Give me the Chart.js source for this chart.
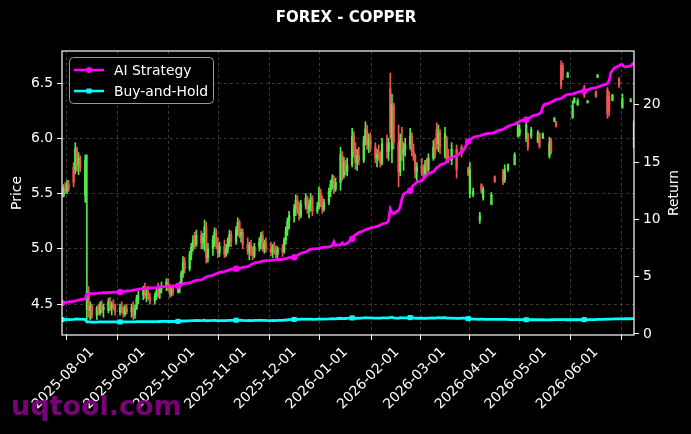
<!DOCTYPE html>
<html>
<head>
<meta charset="utf-8">
<script src="https://cdn.jsdelivr.net/npm/chart.js@4.4.1/dist/chart.umd.min.js"></script>
<style>
  html, body { margin: 0; padding: 0; background: #000; }
  canvas { display: block; }
</style>
</head>
<body>
<canvas id="chart" width="691" height="434"></canvas>
<script>
const START_DATE = '2025-07-14';
const END_DAY = 345;

const monthTicks = ['2025-08-01', '2025-09-01', '2025-10-01', '2025-11-01', '2025-12-01', '2026-01-01',
  '2026-02-01', '2026-03-01', '2026-04-01', '2026-05-01', '2026-06-01'];
const priceTicks = [4.5, 5.0, 5.5, 6.0, 6.5];
const returnTicks = [0, 5, 10, 15, 20];

// daily OHLC, one row per week (Mon..Fri), null = no candle
const opens = [
  5.50,5.48,5.55,5.52,5.58, 5.74,5.72,5.90,5.75,5.80, 5.48,4.45,4.62,4.44,4.48, 4.40,4.46,4.42,4.49,4.45,
  4.44,4.52,4.47,4.50,4.48, 4.43,4.47,4.44,4.41,4.46, 4.43,4.47,4.40,4.46,4.55, 4.58,4.62,4.58,4.60,4.56,
  4.53,4.57,4.62,4.60,4.64, 4.66,4.70,4.64,4.60,4.63, 4.61,4.65,4.68,4.78,4.88, 4.82,4.95,5.02,5.08,5.04,
  5.12,5.05,5.10,5.20,4.92, 5.00,5.08,5.15,5.04,4.96, 5.02,4.95,5.00,5.08,5.13, 5.06,5.17,5.24,5.12,5.15,
  5.04,4.98,5.03,4.97,4.94, 5.02,5.06,5.12,5.00,5.05, 5.00,4.97,5.02,4.98,4.95, 5.00,4.98,5.08,5.17,5.25,
  5.30,5.36,5.44,5.36,5.30, 5.40,5.46,5.36,5.40,5.46, 5.34,5.38,5.50,5.42,5.36, 5.42,5.52,5.58,5.63,5.54,
  5.60,5.85,5.66,5.78,5.70, 5.76,6.02,5.88,5.78,5.84, 5.80,5.98,6.08,5.94,6.00, 5.92,5.82,5.86,5.84,5.78,
  5.95,5.88,6.45,5.90,6.30, 5.96,5.70,5.98,5.86,5.90, 5.94,6.02,5.88,5.84,5.70, 5.74,5.70,5.68,5.76,5.72,
  5.82,5.92,6.08,5.95,6.05, 5.84,6.00,5.84,null,5.80, 5.90,null,null,5.92,null, 5.73,5.50,null,5.49,null,
  5.26,5.58,5.46,null,null, 5.40,null,5.65,null,null, 5.70,5.62,null,5.72,null, 5.76,null,6.02,6.04,null,
  6.00,6.04,null,6.02,null, 5.97,6.04,null,6.00,null, 5.84,5.98,null,6.15,6.15, 6.66,6.65,null,null,6.55,
  6.19,6.32,null,6.30,null, 6.46,null,6.32,null,null, 6.42,6.55,null,null,null, 6.44,6.38,null,6.34,null,
  6.54,null,6.28,null,null, 6.33,null,5.92
];
const highs = [
  5.55,5.58,5.60,5.62,5.62, 5.78,5.96,5.92,5.87,5.84, 5.85,5.85,4.66,4.52,4.50, 4.48,4.50,4.52,4.53,4.50,
  4.55,4.56,4.52,4.54,4.50, 4.50,4.52,4.48,4.49,4.50, 4.50,4.52,4.49,4.58,4.62, 4.66,4.69,4.64,4.66,4.60,
  4.60,4.65,4.69,4.66,4.70, 4.73,4.73,4.68,4.66,4.67, 4.68,4.70,4.80,4.93,4.92, 4.98,5.05,5.12,5.15,5.17,
  5.16,5.14,5.26,5.24,5.05, 5.12,5.19,5.18,5.10,5.06, 5.08,5.04,5.10,5.17,5.16, 5.20,5.28,5.26,5.18,5.18,
  5.10,5.06,5.08,5.02,5.05, 5.10,5.15,5.16,5.08,5.10, 5.06,5.04,5.06,5.03,5.02, 5.04,5.10,5.20,5.28,5.34,
  5.40,5.49,5.48,5.42,5.44, 5.50,5.48,5.44,5.50,5.48, 5.42,5.56,5.54,5.48,5.45, 5.55,5.62,5.67,5.66,5.64,
  5.92,5.88,5.83,5.80,5.82, 6.09,6.06,5.96,5.90,5.92, 6.02,6.15,6.12,6.04,6.05, 5.96,5.90,5.94,5.88,6.00,
  6.03,6.00,6.59,6.40,6.32, 6.12,6.04,6.10,5.96,6.00, 6.09,6.05,5.95,5.86,5.78, 5.82,5.76,5.80,5.82,5.86,
  5.98,6.00,6.14,6.12,6.08, 6.10,6.02,5.90,null,5.96, 5.94,null,null,5.94,null, 5.74,5.78,null,5.55,null,
  5.33,5.59,5.56,null,null, 5.51,null,5.66,null,null, 5.72,5.76,null,5.77,null, 5.87,null,6.13,6.12,null,
  6.15,6.05,null,6.10,null, 6.07,6.05,null,6.05,null, 6.01,6.00,null,6.19,6.15, 6.70,6.68,null,null,6.60,
  6.34,6.37,null,6.36,null, 6.48,null,6.34,null,null, 6.43,6.58,null,null,null, 6.46,6.42,null,6.40,null,
  6.55,null,6.40,null,null, 6.36,null,6.16
];
const lows = [
  5.46,5.47,5.50,5.50,5.52, 5.56,5.68,5.70,5.67,5.70, 5.42,4.36,4.38,4.36,4.37, 4.36,4.40,4.40,4.42,4.38,
  4.42,4.44,4.40,4.45,4.40, 4.40,4.42,4.38,4.39,4.41, 4.38,4.36,4.37,4.45,4.50, 4.54,4.55,4.52,4.54,4.50,
  4.50,4.54,4.56,4.55,4.60, 4.62,4.62,4.56,4.57,4.58, 4.60,4.60,4.66,4.74,4.78, 4.80,4.90,4.98,5.00,5.02,
  5.00,5.00,4.98,4.87,4.88, 4.94,5.02,5.00,4.92,4.93, 4.92,4.93,4.96,5.02,5.02, 5.04,5.12,5.10,5.06,5.00,
  4.95,4.90,4.94,4.90,4.92, 4.98,5.00,4.98,4.96,4.97, 4.94,4.92,4.95,4.92,4.92, 4.93,4.96,5.04,5.12,5.18,
  5.24,5.30,5.32,5.26,5.28, 5.36,5.32,5.28,5.34,5.30, 5.32,5.36,5.38,5.32,5.34, 5.40,5.47,5.54,5.50,5.52,
  5.53,5.62,5.64,5.67,5.66, 5.74,5.83,5.72,5.71,5.76, 5.78,5.94,5.90,5.87,5.88, 5.78,5.74,5.80,5.74,5.76,
  5.82,5.80,6.00,5.78,5.90, 5.56,5.66,5.80,5.71,5.84, 5.90,5.84,5.80,5.64,5.62, 5.66,5.62,5.65,5.68,5.70,
  5.80,5.82,5.90,5.88,5.86, 5.82,5.78,5.78,null,5.76, 5.64,null,null,5.83,null, 5.66,5.46,null,5.47,null,
  5.23,5.50,5.44,null,null, 5.40,null,5.60,null,null, 5.58,5.60,null,5.70,null, 5.76,null,6.01,6.02,null,
  5.97,5.89,null,6.00,null, 5.96,5.91,null,6.00,null, 5.82,5.86,null,6.15,6.10, 6.45,6.53,null,null,6.55,
  6.18,6.32,null,6.30,null, 6.37,null,6.32,null,null, 6.37,6.55,null,null,null, 6.18,6.20,null,6.34,null,
  6.46,null,6.27,null,null, 6.33,null,5.92
];
const closes = [
  5.48,5.55,5.52,5.58,5.55, 5.60,5.90,5.76,5.82,5.74, 5.80,4.62,4.44,4.48,4.40, 4.46,4.42,4.49,4.45,4.47,
  4.52,4.47,4.50,4.48,4.43, 4.47,4.44,4.41,4.46,4.43, 4.47,4.40,4.46,4.55,4.58, 4.62,4.58,4.60,4.56,4.53,
  4.57,4.62,4.60,4.64,4.66, 4.70,4.64,4.60,4.63,4.61, 4.65,4.68,4.78,4.88,4.82, 4.95,5.02,5.08,5.04,5.12,
  5.05,5.10,5.20,4.92,5.00, 5.08,5.15,5.04,4.96,5.02, 4.95,5.00,5.08,5.13,5.06, 5.17,5.24,5.12,5.15,5.04,
  4.98,5.03,4.97,4.94,5.02, 5.06,5.12,5.00,5.05,5.00, 4.97,5.02,4.98,4.95,5.00, 4.98,5.08,5.17,5.25,5.30,
  5.36,5.44,5.36,5.30,5.40, 5.46,5.36,5.40,5.46,5.34, 5.38,5.50,5.42,5.36,5.42, 5.52,5.58,5.63,5.54,5.60,
  5.85,5.66,5.78,5.70,5.76, 6.02,5.88,5.78,5.84,5.80, 5.98,6.08,5.94,6.00,5.92, 5.82,5.86,5.84,5.78,5.95,
  5.88,5.96,6.06,6.30,5.96, 5.70,5.98,5.86,5.90,5.94, 6.02,5.88,5.84,5.70,5.74, 5.70,5.68,5.76,5.72,5.82,
  5.92,5.86,5.95,6.05,5.92, 6.04,5.84,5.80,null,5.90, 5.72,null,null,5.86,null, 5.68,5.72,null,5.52,null,
  5.30,5.52,5.54,null,null, 5.49,null,5.61,null,null, 5.60,5.72,null,5.76,null, 5.85,null,6.10,6.08,null,
  6.12,5.92,null,6.08,null, 6.05,5.93,null,6.04,null, 5.96,5.88,null,6.18,6.11, 6.48,6.56,null,null,6.59,
  6.30,6.36,null,6.34,null, 6.39,null,6.34,null,null, 6.38,6.57,null,null,null, 6.22,6.24,null,6.39,null,
  6.48,null,6.36,null,null, 6.35,null,6.14
];

// cumulative return, same trading days
const aiStrategy = [
  2.70,2.72,2.75,2.78,2.80, 2.84,2.88,2.92,2.96,3.00, 3.08,3.45,3.50,3.52,3.53, 3.55,3.56,3.58,3.57,3.60,
  3.60,3.62,3.63,3.64,3.65, 3.66,3.68,3.70,3.72,3.75, 3.78,3.82,3.85,3.88,3.92, 3.95,3.97,4.00,4.02,4.03,
  4.05,4.06,4.08,4.10,4.12, 4.13,4.15,4.17,4.18,4.19, 4.20,4.24,4.30,4.36,4.42, 4.46,4.52,4.58,4.64,4.68,
  4.72,4.80,4.90,4.98,5.04, 5.12,5.20,5.26,5.32,5.38, 5.44,5.50,5.55,5.60,5.65, 5.70,5.72,5.75,5.78,5.82,
  5.88,5.96,6.05,6.12,6.20, 6.28,6.32,6.36,6.38,6.40, 6.42,6.44,6.45,6.48,6.50, 6.52,6.55,6.58,6.62,6.66,
  6.70,6.78,6.86,6.95,7.05, 7.15,7.25,7.32,7.38,7.42, 7.45,7.48,7.52,7.55,7.58, 7.60,7.65,7.70,8.05,7.75,
  7.78,7.95,7.80,7.85,7.92, 8.30,8.55,8.65,8.75,8.85, 9.00,9.10,9.15,9.20,9.25, 9.35,9.40,9.45,9.50,9.60,
  9.70,9.90,10.90,10.60,10.50, 10.80,11.10,11.80,12.20,12.30, 12.50,12.80,13.00,13.10,13.25, 13.40,13.55,13.70,13.85,14.00,
  14.15,14.35,14.50,14.60,14.75, 14.90,15.05,15.20,15.30,15.40, 15.55,15.65,15.80,15.90,16.00, 16.80,16.95,17.05,17.15,17.20,
  17.30,17.35,17.40,17.45,17.48, 17.52,17.55,17.60,17.68,17.75, 17.85,17.95,18.05,18.12,18.20, 18.30,18.40,18.50,18.55,18.62,
  18.70,18.80,18.88,18.95,19.05, 19.15,19.25,19.30,19.85,20.05, 20.15,20.25,20.30,20.40,20.45, 20.55,20.65,20.75,20.85,20.90,
  20.95,21.00,21.05,21.10,21.15, 21.20,21.25,21.30,21.38,21.42, 21.50,21.55,21.60,21.65,21.70, 21.85,22.10,22.80,23.00,23.20,
  23.40,23.50,23.50,23.35,23.30, 23.40,23.55,23.65
];
const buyAndHold = [
  1.25,1.26,1.25,1.27,1.26, 1.28,1.30,1.31,1.30,1.29, 1.27,1.06,1.05,1.05,1.04, 1.04,1.05,1.05,1.06,1.05,
  1.06,1.05,1.06,1.06,1.05, 1.05,1.06,1.05,1.05,1.06, 1.05,1.05,1.06,1.07,1.08, 1.08,1.07,1.08,1.07,1.07,
  1.07,1.08,1.08,1.09,1.10, 1.10,1.09,1.09,1.10,1.09, 1.10,1.10,1.12,1.14,1.13, 1.15,1.16,1.17,1.16,1.18,
  1.17,1.18,1.20,1.15,1.16, 1.18,1.19,1.17,1.16,1.17, 1.16,1.17,1.18,1.19,1.18, 1.20,1.21,1.19,1.20,1.18,
  1.17,1.18,1.17,1.16,1.18, 1.19,1.20,1.18,1.19,1.18, 1.17,1.18,1.17,1.17,1.18, 1.18,1.20,1.22,1.24,1.26,
  1.27,1.29,1.28,1.27,1.29, 1.30,1.28,1.29,1.30,1.28, 1.29,1.31,1.30,1.29,1.30, 1.31,1.32,1.33,1.32,1.33,
  1.37,1.34,1.36,1.35,1.36, 1.40,1.38,1.36,1.37,1.37, 1.40,1.42,1.40,1.41,1.40, 1.38,1.39,1.39,1.38,1.41,
  1.40,1.41,1.42,1.47,1.41, 1.37,1.42,1.40,1.41,1.41, 1.43,1.41,1.40,1.37,1.38, 1.37,1.37,1.38,1.37,1.39,
  1.40,1.39,1.40,1.42,1.40, 1.42,1.39,1.38,1.38,1.39, 1.36,1.36,1.37,1.38,1.38, 1.34,1.33,1.31,1.30,1.30,
  1.27,1.29,1.29,1.28,1.28, 1.27,1.28,1.28,1.27,1.28, 1.27,1.28,1.27,1.28,1.26, 1.26,1.25,1.26,1.25,1.25,
  1.24,1.25,1.24,1.24,1.25, 1.24,1.23,1.24,1.24,1.23, 1.23,1.24,1.24,1.25,1.25, 1.26,1.25,1.25,1.24,1.25,
  1.24,1.24,1.25,1.24,1.24, 1.25,1.24,1.25,1.25,1.26, 1.26,1.27,1.27,1.28,1.28, 1.29,1.29,1.30,1.30,1.31,
  1.31,1.31,1.32,1.32,1.33, 1.33,1.34,1.34
];

const UP = '#52ea48';
const DOWN = '#ee564e';
const FONT = '"DejaVu Sans", sans-serif';

function dayOffset(dateStr) {
  return Math.round((Date.parse(dateStr) - Date.parse(START_DATE)) / 86400000);
}
// i-th trading day (Mon-Fri) counted from START_DATE
function tradingDay(i) {
  return Math.floor(i / 5) * 7 + (i % 5);
}

const wicks = [], bodies = [], candleColors = [];
for (let i = 0; i < highs.length; i++) {
  if (highs[i] == null) continue;
  const x = tradingDay(i);
  wicks.push({ x: x, y: [lows[i], highs[i]] });
  bodies.push({ x: x, y: [opens[i], closes[i]] });
  candleColors.push(closes[i] >= opens[i] ? UP : DOWN);
}
const aiPoints = aiStrategy.map((v, i) => ({ x: tradingDay(i), y: v }));
const bhPoints = buyAndHold.map((v, i) => ({ x: tradingDay(i), y: v }));

const decorations = {
  id: 'decorations',
  afterDraw(chart) {
    const { ctx, chartArea: a } = chart;
    ctx.save();
    // axes frame
    ctx.strokeStyle = '#fff';
    ctx.lineWidth = 1.2;
    ctx.strokeRect(a.left, a.top, a.right - a.left, a.bottom - a.top);

    // title
    ctx.fillStyle = '#fff';
    ctx.font = 'bold 15px ' + FONT;
    ctx.textAlign = 'center';
    ctx.textBaseline = 'middle';
    ctx.fillText('FOREX - COPPER', 346, 18);

    // axis titles
    ctx.font = '13.9px ' + FONT;
    const midY = (a.top + a.bottom) / 2;
    ctx.save();
    ctx.translate(17, midY);
    ctx.rotate(-Math.PI / 2);
    ctx.fillText('Price', 0, 0);
    ctx.restore();
    ctx.save();
    ctx.translate(674, midY);
    ctx.rotate(-Math.PI / 2);
    ctx.fillText('Return', 0, 0);
    ctx.restore();

    // legend
    ctx.beginPath();
    ctx.roundRect(69.5, 57.5, 144, 46, 4);
    ctx.fillStyle = 'rgba(0,0,0,0.8)';
    ctx.fill();
    ctx.strokeStyle = '#9a9a9a';
    ctx.lineWidth = 1;
    ctx.stroke();
    const items = [
      { label: 'AI Strategy', color: '#ff00ff', y: 70, square: false },
      { label: 'Buy-and-Hold', color: '#00ffff', y: 91, square: true }
    ];
    items.forEach(it => {
      ctx.strokeStyle = it.color;
      ctx.fillStyle = it.color;
      ctx.lineWidth = 2.5;
      ctx.beginPath();
      ctx.moveTo(74, it.y);
      ctx.lineTo(104, it.y);
      ctx.stroke();
      ctx.beginPath();
      if (it.square) ctx.rect(86.5, it.y - 2.5, 5, 5);
      else ctx.arc(89, it.y, 3, 0, Math.PI * 2);
      ctx.fill();
      ctx.fillStyle = '#fff';
      ctx.textAlign = 'left';
      ctx.fillText(it.label, 114, it.y + 1);
    });

    // watermark
    ctx.font = 'bold 27px ' + FONT;
    ctx.fillStyle = 'rgba(135, 0, 135, 0.9)';
    ctx.textAlign = 'left';
    ctx.textBaseline = 'alphabetic';
    ctx.fillText('uqtool.com', 11, 415);
    ctx.restore();
  }
};

const tickFont = { family: FONT, size: 13.9 };
const gridStyle = { color: 'rgba(140,140,140,0.5)', lineWidth: 0.8, tickColor: '#fff', tickLength: 5, tickWidth: 1 };

new Chart(document.getElementById('chart'), {
  type: 'bar',
  data: {
    datasets: [
      {
        type: 'line', label: 'AI Strategy', data: aiPoints, yAxisID: 'y1',
        borderColor: '#ff00ff', backgroundColor: '#ff00ff', borderWidth: 2.8,
        pointRadius: ctx => (ctx.dataIndex % 25 === 0 ? 3.2 : 0), pointStyle: 'circle', pointBorderWidth: 0,
        tension: 0, order: 0
      },
      {
        type: 'line', label: 'Buy-and-Hold', data: bhPoints, yAxisID: 'y1',
        borderColor: '#00ffff', backgroundColor: '#00ffff', borderWidth: 2.8,
        pointRadius: ctx => (ctx.dataIndex % 25 === 0 ? 3.6 : 0), pointStyle: 'rect', pointBorderWidth: 0,
        tension: 0, order: 1
      },
      {
        label: 'wick', data: wicks, yAxisID: 'y', backgroundColor: candleColors,
        barThickness: 1, grouped: false, borderWidth: 0, order: 3
      },
      {
        label: 'body', data: bodies, yAxisID: 'y', backgroundColor: candleColors,
        barThickness: 1.6, grouped: false, borderWidth: 0, order: 2
      }
    ]
  },
  options: {
    responsive: false,
    animation: false,
    devicePixelRatio: 1,
    layout: { padding: { top: 51, left: 0, right: 0, bottom: 0 } },
    plugins: { legend: { display: false }, tooltip: { enabled: false }, title: { display: false } },
    scales: {
      x: {
        type: 'linear', min: 0, max: END_DAY, offset: false,
        afterBuildTicks: s => { s.ticks = monthTicks.map(m => ({ value: dayOffset(m) })); },
        afterFit: s => { s.height = 99; },
        ticks: {
          autoSkip: false, maxRotation: 45, minRotation: 45, color: '#fff', font: tickFont, padding: 4,
          callback: (v, i) => monthTicks[i]
        },
        grid: gridStyle,
        border: { display: false, dash: [3, 3] }
      },
      y: {
        position: 'left', min: 4.22, max: 6.79,
        afterBuildTicks: s => { s.ticks = priceTicks.map(v => ({ value: v })); },
        afterFit: s => { s.width = 62; },
        ticks: { color: '#fff', font: tickFont, padding: 4, callback: v => v.toFixed(1) },
        grid: gridStyle,
        border: { display: false, dash: [3, 3] }
      },
      y1: {
        position: 'right', min: -0.09, max: 24.7,
        afterBuildTicks: s => { s.ticks = returnTicks.map(v => ({ value: v })); },
        afterFit: s => { s.width = 57; },
        ticks: { color: '#fff', font: tickFont, padding: 4, callback: v => String(v) },
        grid: { drawOnChartArea: false, tickColor: '#fff', tickLength: 5, tickWidth: 1 },
        border: { display: false }
      }
    }
  },
  plugins: [decorations]
});
</script>
</body>
</html>
